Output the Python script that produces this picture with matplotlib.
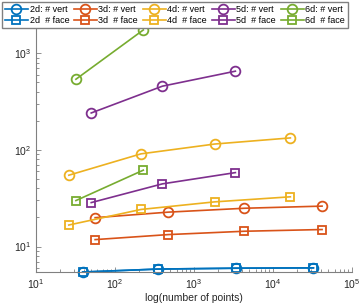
import matplotlib
matplotlib.use("Agg")
import matplotlib.pyplot as plt

plt.rcParams['font.family'] = ['Liberation Sans', 'DejaVu Sans']
plt.rcParams['font.size'] = 7.5

# number of points per dimension
x2 = [39, 353, 3375, 32400]
x3 = [56, 473, 4340, 41700]
x4 = [26, 213, 1830, 16560]
x5 = [50, 397, 3335]
x6 = [32, 228]

# average # vertices / # faces per cell
vert2 = [5.45, 5.85, 5.97, 6.02]
face2 = [5.45, 5.85, 5.97, 6.02]
vert3 = [19.9, 22.7, 24.9, 26.2]
face3 = [11.8, 13.3, 14.4, 15.0]
vert4 = [54.7, 91, 115, 133]
face4 = [16.7, 24.2, 29.0, 32.7]
vert5 = [241, 456, 652]
face5 = [28.5, 44.5, 58.2]
vert6 = [538, 1741]
face6 = [29.9, 61.7]

colors = ['#0072BD', '#D95319', '#EDB120', '#7E2F8E', '#77AC30']
dims = ['2d', '3d', '4d', '5d', '6d']
xs = [x2, x3, x4, x5, x6]
verts = [vert2, vert3, vert4, vert5, vert6]
faces = [face2, face3, face4, face5, face6]

fig = plt.figure(figsize=(3.6, 3.06), dpi=100)
ax = fig.add_axes([0.1, 0.111, 0.878, 0.873])

for d, x, v, f, c in zip(dims, xs, verts, faces, colors):
    ax.plot(x, v, '-o', color=c, lw=1.2, ms=7, mfc='none', mew=1.3,
            label=d + ': # vert', clip_on=False)
    ax.plot(x, f, '-s', color=c, lw=1.2, ms=5.5, mfc='none', mew=1.3,
            label=d + '  # face', clip_on=False)

ax.set_xscale('log')
ax.set_yscale('log')
ax.set_xlim(10, 1e5)
ax.set_ylim(5.45, 3162)
ax.set_xlabel('log(number of points)', color='#262626', labelpad=2)

for s in ['top', 'right']:
    ax.spines[s].set_visible(False)
for s in ['left', 'bottom']:
    ax.spines[s].set_color('#808080')
    ax.spines[s].set_linewidth(0.8)
ax.tick_params(which='both', direction='in', colors='#808080',
               labelcolor='#262626', width=0.6)
ax.tick_params(which='major', length=3.5)
ax.tick_params(which='minor', length=2)

ax.legend(ncol=5, loc='upper left', bbox_to_anchor=(-0.1076, 1.011),
          fontsize=6.5, handlelength=2.6, handletextpad=0.15, columnspacing=0.5,
          labelspacing=0.25, borderpad=0.3, frameon=True, fancybox=False,
          edgecolor='#808080', framealpha=1, borderaxespad=0)

fig.savefig('out.png', dpi=100)
